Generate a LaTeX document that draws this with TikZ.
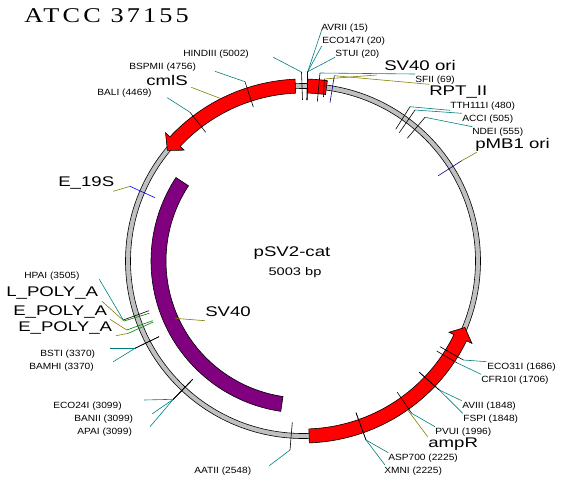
\documentclass[tikz,border=0pt]{standalone}
\usepackage{fontspec}
\setmainfont{Liberation Sans}
\newfontfamily\sitefont[FakeStretch=1.13]{Liberation Sans}
\newfontfamily\genefont[FakeStretch=1.33]{Liberation Sans}
\newfontfamily\titlefont[FakeStretch=1.25,LetterSpace=15]{Liberation Serif}
\definecolor{leadteal}{HTML}{008080}
\definecolor{leadolive}{HTML}{808000}
\definecolor{ringgray}{HTML}{C0C0C0}
\definecolor{svpurple}{HTML}{800080}
\definecolor{polygreen}{HTML}{008000}
\definecolor{ticknavy}{HTML}{000080}

\begin{document}
\begin{tikzpicture}[x=1pt, y=-1pt, line width=0.6pt,
  site/.style={anchor=west, inner sep=0pt, font=\sitefont\fontsize{9}{9}\selectfont},
  gene/.style={anchor=west, inner sep=0pt, font=\genefont\fontsize{14}{14}\selectfont},
  arcbar/.style={draw=black, fill=red, line join=miter}]
  \useasboundingbox (0,0) rectangle (582,480);
  \coordinate (c) at (303,261);

  \node[anchor=west, inner sep=0pt, font=\titlefont\fontsize{21}{21}\selectfont] (title) at (24,16) {ATCC 37155};

  % ring and the three bars
  \begin{scope}[shift={(c)}]
    \draw[fill=ringgray] (0,0) circle (177.5pt);
    \draw[fill=white] (0,0) circle (172.5pt);
    \draw[fill=svpurple] (146.7:137pt) arc[start angle=146.7, end angle=261.6, radius=137pt]
      -- (261.6:152pt) arc[start angle=261.6, end angle=146.7, radius=152pt] -- cycle;
    \path[arcbar] (92.5:168pt) arc[start angle=92.5, end angle=137, radius=168pt]
      -- (137:162.5pt) -- (140.8:175pt) -- (137:188pt) -- (137:182pt)
      arc[start angle=137, end angle=92.5, radius=182pt] -- cycle;
    \path[arcbar] (272:168pt) arc[start angle=272, end angle=334, radius=168pt]
      -- (334:162.5pt) -- (337.7:175pt) -- (334:188pt) -- (334:182pt)
      arc[start angle=334, end angle=272, radius=182pt] -- cycle;
    \path[arcbar] (88.5:168pt) arc[start angle=88.5, end angle=82.3, radius=168pt]
      -- (82.3:182pt) arc[start angle=82.3, end angle=88.5, radius=182pt] -- cycle;
  \end{scope}

  \node[inner sep=0pt, font=\genefont\fontsize{14}{14}\selectfont] (plasmid) at (292,253) {pSV2-cat};
  \node[inner sep=0pt, font=\genefont\fontsize{11}{11}\selectfont] (size) at (295,273) {5003 bp};

  % restriction sites: name / label / leader end / tick start / tick end
  \foreach \nm/\lx/\ly/\txt/\ex/\ey/\ax/\ay/\bx/\by in {
    avr/321/28/AVRII (15)/321.7/30/307.7/71.7/307/100,
    eco/322/41/ECO147I (20)/321.7/46/307.7/71.7/307/100,
    stu/335/54/STUI (20)/335/57.3/307.7/71.7/307/100,
    sfi/415/80/SFII (69)/415/74/320/73/317.3/101.7,
    tth/450/106/TTH111I (480)/450/110.3/410/106.7/395.7/129.3,
    acc/462/119/ACCI (505)/461.7/113.3/415/110/399.3/132.7,
    nde/472/132/NDEI (555)/472.3/126.7/425/117.3/407.3/138.3,
    hin/183/54/HINDIII (5002)/273.3/57.3/301.5/72/302.5/100,
    bsp/129/67/BSPMII (4756)/215/71.3/245/81.7/253.3/107,
    bal/97/93/BALI (4469)/167.3/97.7/190/112.3/205.7/132.3,
    hpa/24/276/HPAI (3505)/99.3/279.3/123.3/320/149/310.7,
    bst/40/354/BSTI (3370)/110/348.3/135/348.3/159/336.7,
    bam/29/367/BAMHI (3370)/113.3/361.7/135/348.3/159/336.7,
    ecb/53/406/ECO24I (3099)/144/400/173.3/399.3/192.7/379.3,
    ban/74/419/BANII (3099)/152.3/413.7/173.3/399.3/192.7/379.3,
    apa/77/432/APAI (3099)/150/426.7/173.3/399.3/192.7/379.3,
    aat/194/471/AATII (2548)/269.3/465.7/290/450/292.3/422.3,
    asp/388/458/ASP700 (2225)/388.3/452.7/366/440/356/412.7,
    xmn/384/471/XMNI (2225)/385/465/366/440/356/412.7,
    pvu/435/432/PVUI (1996)/435/426.7/411.7/413.3/397.3/392.3,
    avi/462/406/AVIII (1848)/461.7/400.7/439.3/390/419.3/372.3,
    fsp/463/419/FSPI (1848)/462.7/413.3/439.3/390/419.3/372.3,
    ecc/487/367/ECO31I (1686)/486.7/361.7/463.3/360/440/346.7,
    cfr/481/380/CFR10I (1706)/481/374.3/456.7/362.7/436.7/351} {
    \node[site] (\nm) at (\lx,\ly) {\txt};
    \coordinate (\nm e) at (\ex,\ey);
    \coordinate (\nm a) at (\ax,\ay);
    \coordinate (\nm b) at (\bx,\by);
    \draw[leadteal] (\nm e) -- (\nm a);
    \draw (\nm a) -- (\nm b);
  }

  % features: name / label / leader end / tick start / tick end / tick colour
  \foreach \nm/\lx/\ly/\txt/\ex/\ey/\ax/\ay/\bx/\by/\col in {
    sv/384/65/SV40 ori/376.7/75/324.3/79/323.5/97/black,
    rpt/429/92/RPT\_II/429/84.3/334.3/75.7/330/102.7/ticknavy,
    pmb/475/145/pMB1 ori/476.7/152.3/461.7/160.7/438.3/175.7/ticknavy,
    cml/146/80/cmlS/191.3/87.3/220/98.3/220/98.3/black,
    esn/58/183/E\_19S/113.3/191.3/130/186.3/155/197.7/blue,
    lpa/6/293/L\_POLY\_A/102/301.3/124/321/149.3/313.3/polygreen,
    epa/13/312/E\_POLY\_A/110/319.3/126.7/330/152.7/320.7/polygreen,
    epb/18/328/E\_POLY\_A/116/335.7/128.3/333.3/153.3/322/polygreen,
    svb/205/312/SV40/205/320.7/175/318.3/175/318.3/black,
    amp/428/444/ampR/427.7/436.7/407.7/410/407.7/410/black} {
    \node[gene] (\nm) at (\lx,\ly) {\txt};
    \coordinate (\nm e) at (\ex,\ey);
    \coordinate (\nm a) at (\ax,\ay);
    \coordinate (\nm b) at (\bx,\by);
    \draw[leadolive] (\nm e) -- (\nm a);
    \draw[\col] (\nm a) -- (\nm b);
  }
\end{tikzpicture}
\end{document}
